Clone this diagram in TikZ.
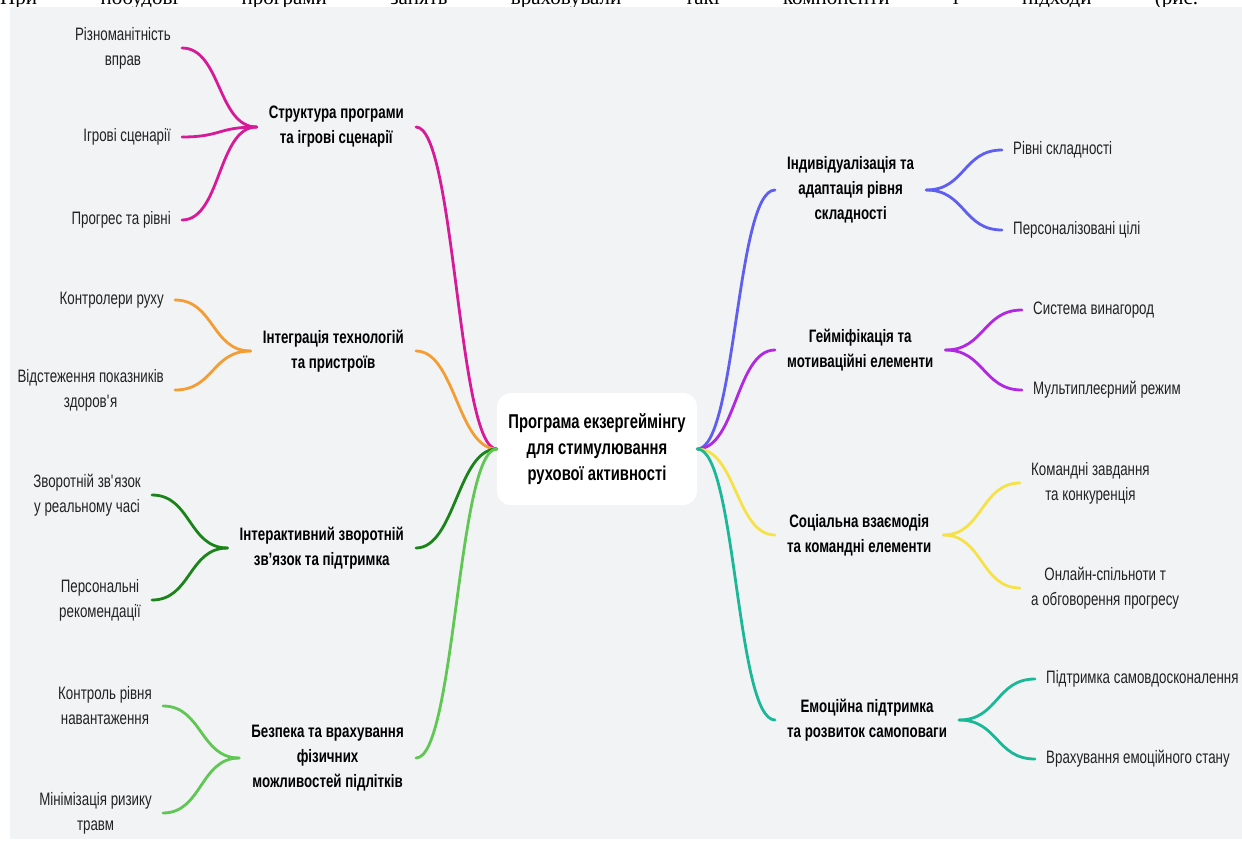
\documentclass[tikz,border=0pt]{standalone}
\usepackage{fontspec}
\setmainfont{Liberation Sans}[FakeStretch=0.74]
\newfontfamily\pagefont{Liberation Serif}
\usepackage{xcolor}
\usetikzlibrary{positioning}

\definecolor{bgc}{RGB}{242,243,245}
\definecolor{pinkc}{RGB}{214,26,152}
\definecolor{orangec}{RGB}{243,157,52}
\definecolor{darkgreenc}{RGB}{26,132,26}
\definecolor{lightgreenc}{RGB}{96,198,84}
\definecolor{bluec}{RGB}{94,94,240}
\definecolor{purplec}{RGB}{176,40,226}
\definecolor{yellowc}{RGB}{246,226,72}
\definecolor{tealc}{RGB}{26,184,150}
\definecolor{leaftext}{RGB}{34,34,34}

\begin{document}
\begin{tikzpicture}[x=1pt, y=-1pt,
		leaf/.style={inner xsep=11pt, inner ysep=2pt, align=center, text=leaftext, font=\fontsize{18}{25}\selectfont},
		topic/.style={inner xsep=12pt, inner ysep=2pt, align=center, text=black, font=\bfseries\fontsize{18}{25}\selectfont},
		root/.style={fill=white, rounded corners=14pt, minimum width=200pt, minimum height=112pt, align=center, font=\bfseries\fontsize{20}{26}\selectfont},
		branch/.style={line width=2.8pt, line cap=round}]
	\useasboundingbox (0,0) rectangle (1242,846);
	\clip (0,0) rectangle (1242,846);
	\node[anchor=base west, inner sep=0pt, font=\pagefont\fontsize{21}{25}\selectfont] (pagetext) at (0,4)
		{\hbox to 1198pt{При\hfill побудові\hfill програми\hfill занять\hfill враховували\hfill такі\hfill компоненти\hfill і\hfill підходи\hfill (рис.}};
	\fill[bgc] (10,7) rectangle (1242,839);

	\node[root] (prog) at (597,449) {Програма екзергеймінгу\\для стимулювання\\рухової активності};

	\node[topic, anchor=east] (struct) at (416,127) {Структура програми\\та ігрові сценарії};
	\node[topic, anchor=east] (integr) at (416,351) {Інтеграція технологій\\та пристроїв};
	\node[topic, anchor=east] (inter) at (416,548) {Інтерактивний зворотній\\зв’язок та підтримка};
	\node[topic, anchor=east] (bezp) at (416,758) {Безпека та врахування\\фізичних\\можливостей підлітків};

	\node[topic, anchor=west] (indiv) at (775,190) {Індивідуалізація та\\адаптація рівня\\складності};
	\node[topic, anchor=west] (geim) at (775,350) {Гейміфікація та\\мотиваційні елементи};
	\node[topic, anchor=west] (soc) at (775,535) {Соціальна взаємодія\\та командні елементи};
	\node[topic, anchor=west] (emoc) at (775,720) {Емоційна підтримка\\та розвиток самоповаги};

	\node[leaf, anchor=east] (rizn) at (182,48) {Різноманітність\\вправ};
	\node[leaf, anchor=east] (igr) at (182,137) {Ігрові сценарії};
	\node[leaf, anchor=east] (progr) at (182,220) {Прогрес та рівні};
	\node[leaf, anchor=east] (kontr) at (175,300) {Контролери руху};
	\node[leaf, anchor=east] (vidst) at (175,390) {Відстеження показників\\здоров\textquotesingle я};
	\node[leaf, anchor=east] (zvor) at (152,495) {Зворотній зв\textquotesingle язок\\у реальному часі};
	\node[leaf, anchor=east] (pers) at (152,600) {Персональні\\рекомендації};
	\node[leaf, anchor=east] (kontrriv) at (163,706) {Контроль рівня\\навантаження};
	\node[leaf, anchor=east] (minim) at (163,813) {Мінімізація ризику\\травм};

	\node[leaf, anchor=west] (rivni) at (1002,150) {Рівні складності};
	\node[leaf, anchor=west] (perscil) at (1002,230) {Персоналізовані цілі};
	\node[leaf, anchor=west] (sysv) at (1022,310) {Система винагород};
	\node[leaf, anchor=west] (multi) at (1022,390) {Мультиплеєрний режим};
	\node[leaf, anchor=west] (koman) at (1020,483) {Командні завдання\\та конкуренція};
	\node[leaf, anchor=west] (online) at (1020,588) {Онлайн-спільноти т\\а обговорення прогресу};
	\node[leaf, anchor=west] (pidtr) at (1035,679) {Підтримка самовдосконалення};
	\node[leaf, anchor=west] (vrakh) at (1035,759) {Врахування емоційного стану};

	\foreach \t/\c in {struct/pinkc, integr/orangec, inter/darkgreenc, bezp/lightgreenc}
		\draw[branch, \c] (prog.west) .. controls +(-39,0) and +(39,0) .. (\t.east);
	\foreach \t/\c in {indiv/bluec, geim/purplec, soc/yellowc, emoc/tealc}
		\draw[branch, \c] (prog.east) .. controls +(39,0) and +(-39,0) .. (\t.west);

	\foreach \t/\l/\c in {struct/rizn/pinkc, struct/igr/pinkc, struct/progr/pinkc,
			integr/kontr/orangec, integr/vidst/orangec, inter/zvor/darkgreenc, inter/pers/darkgreenc,
			bezp/kontrriv/lightgreenc, bezp/minim/lightgreenc}
		\draw[branch, \c] (\t.west) .. controls +(-39,0) and +(39,0) .. (\l.east);
	\foreach \t/\l/\c in {indiv/rivni/bluec, indiv/perscil/bluec, geim/sysv/purplec, geim/multi/purplec,
			soc/koman/yellowc, soc/online/yellowc, emoc/pidtr/tealc, emoc/vrakh/tealc}
		\draw[branch, \c] (\t.east) .. controls +(39,0) and +(-39,0) .. (\l.west);
\end{tikzpicture}
\end{document}
